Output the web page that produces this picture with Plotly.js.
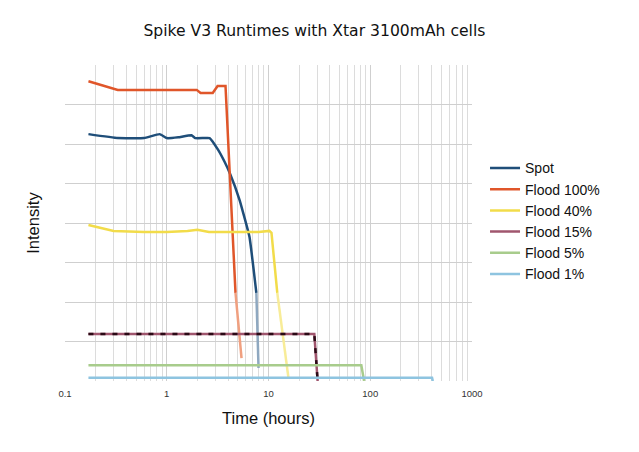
<!DOCTYPE html>
<html>
<head>
<meta charset="utf-8">
<script src="https://cdn.plot.ly/plotly-3.0.1.min.js"></script>
<style>html,body{margin:0;padding:0;background:#fff;}#chart{width:639px;height:452px;}</style>
</head>
<body>
<div id="chart"></div>
<script>
// Data (time in hours, intensity in arbitrary gridline units)
const seriesNames = ["Spot", "Flood 100%", "Flood 40%", "Flood 15%", "Flood 5%", "Flood 1%"];

const spotTime = [0.17, 0.33, 0.6, 0.85, 1.0, 1.3, 1.75, 1.9, 2.3, 2.64, 3.2, 3.7, 4.15, 5.2, 6.5, 7.6, 7.98];
const spotVal  = [6.25, 6.15, 6.15, 6.25, 6.15, 6.17, 6.22, 6.15, 6.15, 6.15, 5.85, 5.55, 5.27, 4.58, 3.65, 2.23, 0.33];

const flood100Time = [0.17, 0.33, 1.97, 2.15, 2.83, 3.16, 3.78, 4.74, 5.43];
const flood100Val  = [7.59, 7.37, 7.37, 7.29, 7.29, 7.47, 7.47, 2.23, 0.58];

const flood40Time = [0.17, 0.3, 0.6, 1.0, 1.6, 2.0, 2.6, 4.0, 6.0, 8.0, 10.2, 10.7, 12.2, 15.7];
const flood40Val  = [3.95, 3.80, 3.77, 3.77, 3.80, 3.83, 3.77, 3.77, 3.77, 3.77, 3.80, 3.75, 2.23, 0.08];

const flood15Time = [0.17, 28.2, 30.4];
const flood15Val  = [1.19, 1.19, 0.0];

const flood5Time = [0.17, 81.7, 87.0];
const flood5Val  = [0.40, 0.40, 0.0];

const flood1Time = [0.17, 405, 412];
const flood1Val  = [0.08, 0.08, 0.0];

const xTickVals = [0.1, 1, 10, 100, 1000];
const xTickText = ["0.1", "1", "10", "100", "1000"];

// Styling
const colors = ["#1f4e79", "#e0562a", "#f2dc4a", "#a0566e", "#a8cc8c", "#8ec4e0"];
const tailColors = ["#8fa8c0", "#f0a080", "#f8ec98", null, null, null];
const allTime = [spotTime, flood100Time, flood40Time, flood15Time, flood5Time, flood1Time];
const allVal = [spotVal, flood100Val, flood40Val, flood15Val, flood5Val, flood1Val];

const traces = [];
for (let i = 0; i < seriesNames.length; i++) {
  const t = allTime[i], v = allVal[i];
  const hasTail = tailColors[i] !== null;
  const n = hasTail ? t.length - 1 : t.length;
  const line = {color: colors[i], width: 2.5};
  if (i === 0) { line.shape = "spline"; line.smoothing = 0.3; }
  traces.push({
    x: t.slice(0, n), y: v.slice(0, n), type: "scatter", mode: "lines",
    name: seriesNames[i], legendgroup: seriesNames[i], line: line
  });
  if (hasTail) {
    traces.push({
      x: t.slice(n - 1), y: v.slice(n - 1), type: "scatter", mode: "lines",
      showlegend: false, legendgroup: seriesNames[i], hoverinfo: "skip",
      line: {color: tailColors[i], width: 2.5}
    });
  }
}
// dark dashed overlay on Flood 15%
traces.splice(traces.length - 2, 0, {
  x: flood15Time, y: flood15Val, type: "scatter", mode: "lines",
  showlegend: false, legendgroup: "Flood 15%", hoverinfo: "skip",
  line: {color: "#2a0a16", width: 2.5, dash: "5px,7px"}
});

const minorVals = [];
for (let d = -1; d < 3; d++) for (let k = 2; k <= 9; k++) minorVals.push(k * Math.pow(10, d));

const layout = {
  width: 639, height: 452,
  margin: {l: 65, r: 167, t: 65, b: 71},
  paper_bgcolor: "#fff", plot_bgcolor: "#fff",
  title: {text: "Spike V3 Runtimes with Xtar 3100mAh cells", x: 0.492, xanchor: "center", y: 0.945,
          font: {family: "DejaVu Sans", size: 15.6, color: "#111"}},
  xaxis: {
    type: "log", range: [-1, 3], tickvals: xTickVals, ticktext: xTickText,
    tickfont: {family: "Liberation Sans", size: 9.5, color: "#333"},
    showgrid: true, gridcolor: "#cfcfcf", gridwidth: 1, zeroline: false, showline: false,
    ticks: "outside", ticklen: 4, tickcolor: "rgba(0,0,0,0)",
    minor: {tickvals: minorVals, showgrid: true, gridcolor: "#dcdcdc", gridwidth: 1},
    title: {text: "Time (hours)", font: {family: "Liberation Sans", size: 16.5, color: "#111"}, standoff: 14}
  },
  yaxis: {
    range: [0, 8], dtick: 1, showticklabels: false, showgrid: true, gridcolor: "#cfcfcf",
    zeroline: false, showline: false, ticks: "",
    title: {text: "Intensity", font: {family: "Liberation Sans", size: 16.5, color: "#111"}, standoff: 20}
  },
  legend: {
    x: 1.032, y: 0.505, xanchor: "left", yanchor: "middle",
    font: {family: "Liberation Sans", size: 14, color: "#111"},
    itemwidth: 30, tracegroupgap: 0, bgcolor: "rgba(0,0,0,0)"
  },
  showlegend: true
};

Plotly.newPlot("chart", traces, layout, {displayModeBar: false, staticPlot: true});
</script>
</body>
</html>
